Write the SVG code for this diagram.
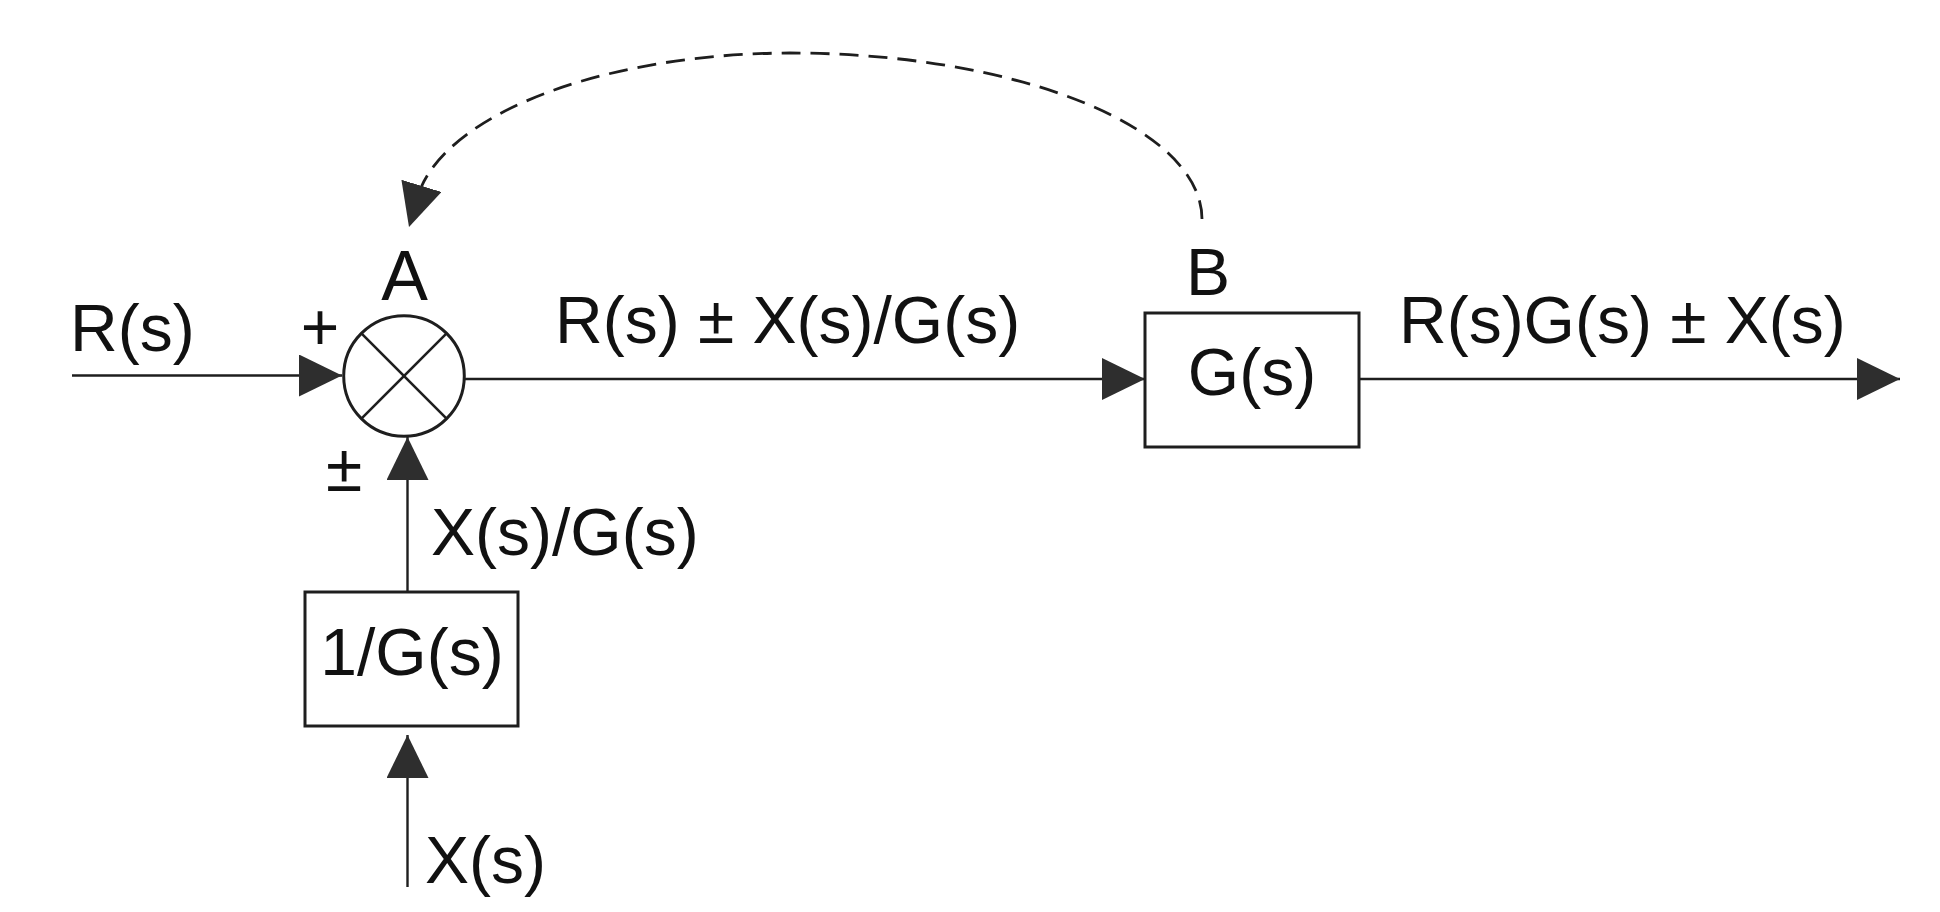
<svg xmlns="http://www.w3.org/2000/svg" width="1940" height="912" viewBox="0 0 1940 912">
  <style>
    .ln { fill: none; stroke: #1e1e1e; stroke-width: 2.4; }
    .box { fill: #ffffff; stroke: #1e1e1e; stroke-width: 3; }
    .dash { fill: none; stroke: #1e1e1e; stroke-width: 2.8; stroke-dasharray: 19 10; }
    .lbl { font-family: "Liberation Sans", Arial, sans-serif; font-size: 66px; fill: #111111; }
  </style>
  <defs>
    <marker id="arrow" markerUnits="userSpaceOnUse" markerWidth="44" markerHeight="42" viewBox="0 0 44 42" refX="43" refY="21" orient="auto">
      <path d="M0,0 L43,21 L0,42 Z" fill="#2e2e2e"/>
    </marker>
  </defs>
  <rect x="0" y="0" width="1940" height="912" fill="#ffffff"/>

  <g id="connectors">
    <path id="c-r-in" class="ln" d="M72,375.5 H342" marker-end="url(#arrow)"/>
    <path id="c-a-b" class="ln" d="M464,379 H1145" marker-end="url(#arrow)"/>
    <path id="c-out" class="ln" d="M1359,379 H1900" marker-end="url(#arrow)"/>
    <path id="c-inv-a" class="ln" d="M407.5,592 V437" marker-end="url(#arrow)"/>
    <path id="c-x-in" class="ln" d="M407.5,887 V735" marker-end="url(#arrow)"/>
    <path id="c-feedback" class="dash" d="M1202,219 A412,166 0 0 0 790,53 A378,166 0 0 0 421,187.5 L409,227" marker-end="url(#arrow)"/>
  </g>

  <g id="node-sum-A">
    <circle cx="404" cy="376" r="60.3" fill="#ffffff" stroke="#1e1e1e" stroke-width="3"/>
    <line x1="361.4" y1="333.4" x2="446.6" y2="418.6" stroke="#1e1e1e" stroke-width="2.6"/>
    <line x1="446.6" y1="333.4" x2="361.4" y2="418.6" stroke="#1e1e1e" stroke-width="2.6"/>
    <text class="lbl" x="404.5" y="300" text-anchor="middle" style="font-size:70px">A</text>
    <text class="lbl" x="320" y="350" text-anchor="middle">+</text>
    <text class="lbl" x="344" y="491" text-anchor="middle">±</text>
  </g>

  <g id="node-G-B">
    <rect class="box" x="1145" y="313" width="214" height="134"/>
    <text class="lbl" x="1252" y="395" text-anchor="middle">G(s)</text>
    <text class="lbl" x="1208" y="295" text-anchor="middle">B</text>
  </g>

  <g id="node-inv-G">
    <rect class="box" x="305" y="592" width="213" height="134"/>
    <text class="lbl" x="412" y="675" text-anchor="middle">1/G(s)</text>
  </g>

  <g id="labels">
    <text class="lbl" x="70" y="351">R(s)</text>
    <text class="lbl" x="555" y="343">R(s) ± X(s)/G(s)</text>
    <text class="lbl" x="1399" y="343">R(s)G(s) ± X(s)</text>
    <text class="lbl" x="431" y="555">X(s)/G(s)</text>
    <text class="lbl" x="425" y="883">X(s)</text>
  </g>
</svg>
